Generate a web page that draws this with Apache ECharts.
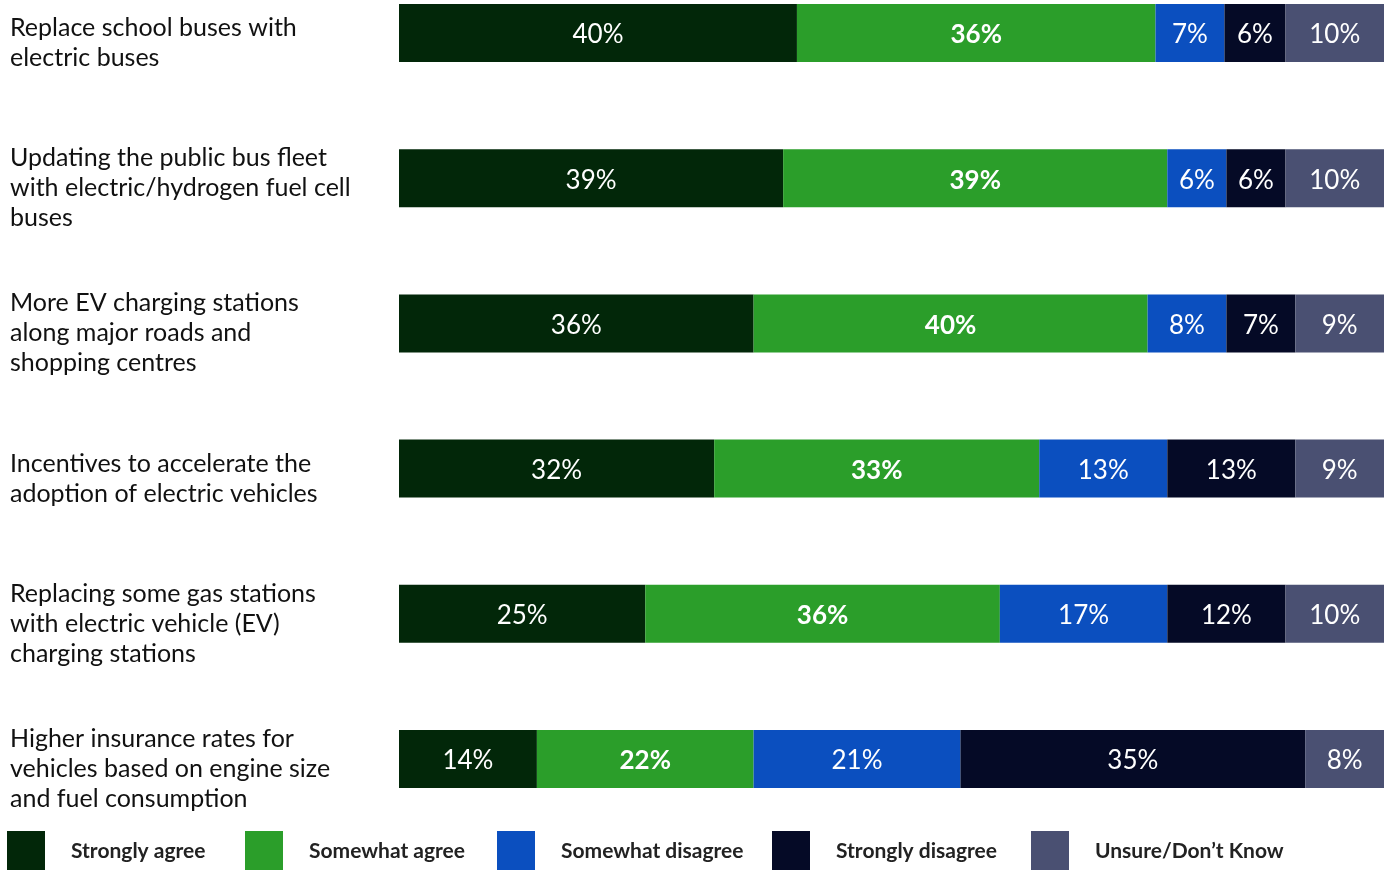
<!DOCTYPE html>
<html>
<head>
<meta charset="utf-8">
<script src="https://cdn.jsdelivr.net/npm/echarts@6/dist/echarts.min.js"></script>
<style>html,body{margin:0;padding:0;background:#fff;overflow:hidden}#c{position:absolute;left:0;top:-40px;width:1388px;height:910px}</style>
</head>
<body>
<div id="c"></div>
<script>
const categories = [
  'Replace school buses with\nelectric buses',
  'Updating the public bus fleet\nwith electric/hydrogen fuel cell\nbuses',
  'More EV charging stations\nalong major roads and\nshopping centres',
  'Incentives to accelerate the\nadoption of electric vehicles',
  'Replacing some gas stations\nwith electric vehicle (EV)\ncharging stations',
  'Higher insurance rates for\nvehicles based on engine size\nand fuel consumption'
];
const seriesNames = ['Strongly agree', 'Somewhat agree', 'Somewhat disagree', 'Strongly disagree', 'Unsure/Don\u2019t Know'];
const stronglyAgree    = [40.4, 39, 36, 32, 25, 14];
const somewhatAgree    = [36.4, 39, 40, 33, 36, 22];
const somewhatDisagree = [7.0, 6, 8, 13, 17, 21];
const stronglyDisagree = [6.2, 6, 7, 13, 12, 35];
const unsure           = [10.0, 10, 9, 9, 10, 8];

const colors = ['#022709', '#2b9e2a', '#0b4fbf', '#050a26', '#4a5072'];
const weights = ['normal', 'bold', 'normal', 'normal', 'normal'];
const allValues = [stronglyAgree, somewhatAgree, somewhatDisagree, stronglyDisagree, unsure];
const legendLeft = [7, 245, 497, 772, 1031];

const chart = echarts.init(document.getElementById('c'), null, {renderer: 'canvas'});
chart.setOption({
  animation: false,
  grid: {left: 399, right: 4, top: 0.4, height: 871.2, containLabel: false},
  xAxis: {type: 'value', min: 0, max: 100, show: false},
  yAxis: {
    type: 'category', data: categories, inverse: true, boundaryGap: true,
    axisLine: {show: false}, axisTick: {show: false}, splitLine: {show: false},
    axisLabel: {
      align: 'left', margin: 389, verticalAlign: 'middle',
      formatter: v => '{s| }\n' + v.split('\n').map(l => '{t|' + l + '}').join('\n'),
      rich: {
        s: {fontSize: 1, lineHeight: 20},
        t: {fontFamily: 'Lato', fontSize: 25, color: '#111', lineHeight: 30, align: 'left'}
      }
    }
  },
  legend: seriesNames.map((n, i) => ({
    data: [n], left: legendLeft[i], top: 871, itemWidth: 38, itemHeight: 40,
    icon: 'rect', padding: 0, selectedMode: false,
    textStyle: {fontFamily: 'Lato', fontWeight: 'bold', fontSize: 21, color: '#222', padding: [0, 0, 2, 21]}
  })),
  series: seriesNames.map((n, i) => ({
    name: n, type: 'bar', stack: 'total', barWidth: 58,
    data: allValues[i],
    itemStyle: {color: colors[i]},
    label: {
      show: true, position: 'inside', color: '#fff', fontFamily: 'Lato',
      fontSize: 26, fontWeight: weights[i], offset: [0, 2],
      formatter: p => Math.round(p.value) + '%'
    }
  }))
});
</script>
</body>
</html>
